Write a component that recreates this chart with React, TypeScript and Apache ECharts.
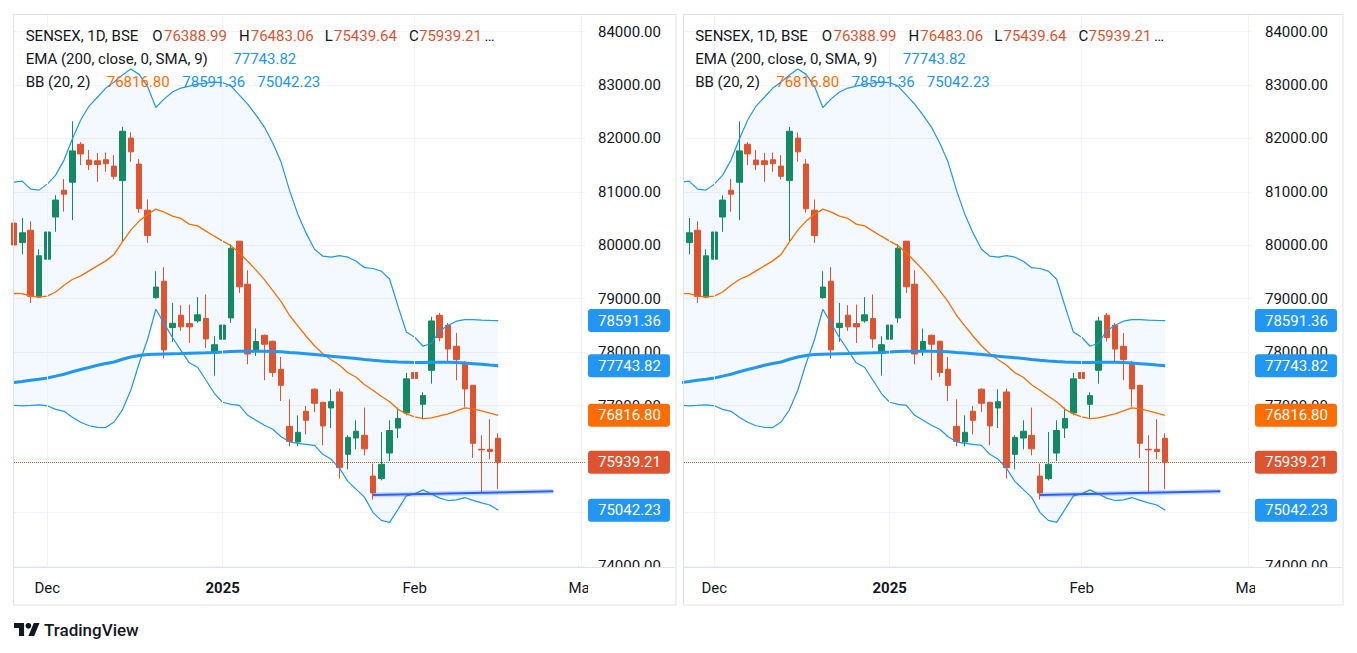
import React, { useEffect, useRef } from 'react';
import * as echarts from 'echarts';

// ---------- data ----------
const dates = [
  '2024-11-26', '2024-11-27', '2024-11-28', '2024-11-29',
  '2024-12-02', '2024-12-03', '2024-12-04', '2024-12-05', '2024-12-06',
  '2024-12-09', '2024-12-10', '2024-12-11', '2024-12-12', '2024-12-13',
  '2024-12-16', '2024-12-17', '2024-12-18', '2024-12-19', '2024-12-20',
  '2024-12-23', '2024-12-24', '2024-12-26', '2024-12-27', '2024-12-30', '2024-12-31',
  '2025-01-01', '2025-01-02', '2025-01-03', '2025-01-06', '2025-01-07', '2025-01-08',
  '2025-01-09', '2025-01-10', '2025-01-13', '2025-01-14', '2025-01-15', '2025-01-16',
  '2025-01-17', '2025-01-20', '2025-01-21', '2025-01-22', '2025-01-23', '2025-01-24',
  '2025-01-27', '2025-01-28', '2025-01-29', '2025-01-30', '2025-01-31', '2025-02-01',
  '2025-02-03', '2025-02-04', '2025-02-05', '2025-02-06', '2025-02-07', '2025-02-10',
  '2025-02-11', '2025-02-12', '2025-02-13', '2025-02-14',
];
const open = [80415, 80050, 80281, 79030, 79740, 80529, 81030, 81180, 81890, 81594, 81581, 81600, 81481, 81210, 82006, 81519, 80657, 79020, 79328, 78461, 78691, 78535, 78585, 78630, 77980, 78242, 78640, 80077, 79271, 78017, 78316, 78204, 77680, 76612, 76318, 76893, 77307, 77062, 76956, 77255, 76088, 76393, 76444, 75681, 75632, 76112, 76580, 76862, 77620, 77024, 77660, 78690, 78504, 78110, 77773, 77380, 76182, 76182, 76388.99];
const high = [80480, 80511, 80450, 79925, 80345, 80938, 81240, 82320, 81931, 81781, 81730, 81738, 81687, 82215, 82112, 81612, 80857, 79515, 79590, 78921, 78878, 78891, 79030, 79080, 78300, 78741, 80020, 80080, 79533, 78442, 78330, 78215, 77910, 77118, 76817, 76993, 77320, 77070, 77305, 77318, 76444, 76725, 76963, 75913, 76505, 76725, 76963, 77610, 77890, 77249, 78660, 78735, 78547, 78359, 77835, 77384, 76444, 76744, 76483.06];
const low = [79800, 79830, 78918, 79010, 79320, 80251, 80630, 80470, 81500, 81406, 81187, 81375, 81232, 80080, 81562, 80607, 80045, 79000, 77880, 78191, 78397, 78172, 78550, 78080, 77560, 77892, 78547, 79108, 77773, 77929, 77474, 77536, 77086, 76238, 76238, 76462, 76880, 76256, 76580, 75633, 75807, 76182, 76069, 75240, 75601, 75962, 76393, 76818, 76995, 76744, 77410, 78200, 77835, 77474, 76976, 76019, 75371, 75995, 75439.64];
const close = [80004, 80234, 79044, 79803, 80248, 80846, 80956, 81766, 81709, 81508, 81510, 81526, 81290, 82133, 81749, 80684, 80182, 79218, 78042, 78540, 78473, 78472, 78699, 78248, 78139, 78507, 79944, 79223, 77965, 78199, 78148, 77620, 77379, 76330, 76500, 76724, 77043, 76619, 77073, 75838, 76405, 76520, 76190, 75366, 75901, 76533, 76760, 77501, 77506, 77187, 78584, 78271, 78058, 77860, 77312, 76294, 76171, 76139, 75939.21];
const bbUpper = [81182, 81201, 81051, 81032, 81144, 81313, 81594, 81987, 82343, 82605, 82770, 82942, 83054, 83185, 83298, 83198, 82975, 82578, 82740, 82867, 82942, 82979, 83017, 83036, 83054, 83045, 82979, 82811, 82642, 82436, 82212, 81912, 81556, 81032, 80582, 80227, 79927, 79796, 79777, 79805, 79777, 79702, 79580, 79565, 79515, 79365, 78860, 78378, 78279, 78110, 78166, 78400, 78504, 78579, 78607, 78607, 78598, 78593, 78591.36];
const bbMid = [79097, 79094, 79047, 79034, 79047, 79125, 79253, 79359, 79427, 79521, 79614, 79708, 79829, 80065, 80283, 80452, 80575, 80676, 80620, 80545, 80502, 80395, 80363, 80264, 80170, 80077, 79993, 79857, 79702, 79534, 79358, 79153, 78944, 78690, 78493, 78298, 78120, 77970, 77857, 77754, 77614, 77530, 77389, 77286, 77174, 77071, 76930, 76846, 76790, 76756, 76771, 76809, 76846, 76902, 76959, 76940, 76902, 76859, 76816.80];
const bbLower = [77005, 76996, 77005, 77015, 76996, 76930, 76893, 76781, 76687, 76622, 76593, 76588, 76693, 76921, 77286, 77792, 78232, 78803, 78534, 78270, 78032, 77800, 77718, 77474, 77230, 77062, 77024, 77005, 76818, 76725, 76631, 76556, 76416, 76322, 76294, 76275, 76256, 76088, 75994, 75826, 75582, 75432, 75283, 75002, 74852, 74814, 75058, 75311, 75348, 75423, 75344, 75268, 75223, 75236, 75279, 75226, 75180, 75140, 75042.23];
const ema = [77431, 77451, 77474, 77493, 77517, 77551, 77586, 77633, 77674, 77713, 77754, 77786, 77816, 77867, 77910, 77936, 77955, 77961, 77966, 77970, 77974, 77979, 77983, 77987, 77992, 78002, 78013, 78017, 78017, 78017, 78017, 78013, 78006, 77994, 77983, 77970, 77957, 77942, 77923, 77910, 77895, 77880, 77863, 77848, 77835, 77824, 77815, 77811, 77807, 77807, 77809, 77811, 77811, 77805, 77796, 77785, 77773, 77758, 77743.82];

const xTickIdx = [4, 25, 48, 68];
const xTickLabels = ['Dec', '2025', 'Feb', 'Mar'];
const trendIdx = [43, 64.6];
const trendPrice = [75325, 75395];

const symbolTitle = 'SENSEX, 1D, BSE';
const emaTitle = 'EMA (200, close, 0, SMA, 9)';
const bbTitle = 'BB (20, 2)';

// ---------- styles / layout ----------
const RED = '#DF5430';
const GREEN = '#148A64';
const BLUE = '#2196F3';
const ORANGE = '#FF6D00';
const TREND = '#2962FF';
const TEXT = '#131722';
const GRIDC = '#F0F3FA';
const BORDER = '#E0E3EB';
const FONT = 'Roboto, "Noto Sans", sans-serif';

const STEP = 8.35;
const TOP = 14;
const BOTTOM = 567;
const Y_MIN = 73979.4;
const Y_MAX = 84327.7;
const HIDE_NEAR_BADGE = 100; // price-scale labels fully covered by a badge
const panels = [
  { left: 14, right: 585, x0: 13.9, boxX: 13.5, boxW: 662.5, textX: 25.7 },
  { left: 684, right: 1252, x0: 680.9, boxX: 683.5, boxW: 659.5, textX: 695.2 },
];

echarts.graphic.registerShape(
  'tvLogo',
  echarts.graphic.extendPath('M14 22H7V11H0V4h14v18zM28 22h-8l7.5-18h8L28 22z', {})
);

function txt(x: number, y: number, text: string, fill: string, extra: any = {}) {
  return {
    type: 'text',
    x,
    y,
    z: 60,
    silent: true,
    style: {
      text,
      fill,
      fontSize: 15,
      fontFamily: FONT,
      align: 'left',
      verticalAlign: 'middle',
      textAlign: 'left',
      textVerticalAlign: 'middle',
      ...extra,
    },
  };
}

function buildOption() {
  const last = close.length - 1;
  const fmt = (v: number) => v.toFixed(2);
  const badgeValues = [bbUpper[last], ema[last], bbMid[last], close[last], bbLower[last]];

  const badge = (v: number, color: string, visible: boolean) => ({
    yAxis: v,
    lineStyle: visible
      ? { color, type: 'dotted', width: 1 }
      : { color: 'rgba(0,0,0,0)', type: 'solid', width: 0 },
    label: {
      show: true,
      position: 'end',
      distance: 3,
      formatter: () => fmt(v),
      color: '#ffffff',
      fontSize: 15,
      fontFamily: FONT,
      backgroundColor: color,
      padding: [3, 9, 3, 10],
      borderRadius: 3,
      lineHeight: 17,
      opacity: 1,
    },
  });

  const grid: any[] = [];
  const xAxis: any[] = [];
  const yAxis: any[] = [];
  const series: any[] = [];
  const graphic: any[] = [];

  panels.forEach((p, k) => {
    grid.push({ left: p.left, top: TOP, width: p.right - p.left, height: BOTTOM - TOP });
    xAxis.push({
      type: 'value',
      gridIndex: k,
      min: (p.left - p.x0) / STEP,
      max: (p.right - p.x0) / STEP,
      axisLine: { show: false },
      axisTick: { show: false, customValues: xTickIdx },
      splitLine: { show: false },
      axisLabel: {
        customValues: xTickIdx,
        margin: 13,
        fontSize: 15,
        fontFamily: FONT,
        color: TEXT,
        formatter: (v: number) => {
          const j = xTickIdx.indexOf(Math.round(v));
          if (j < 0) return '';
          const t = xTickLabels[j];
          return t === '2025' ? '{b|' + t + '}' : t;
        },
        rich: { b: { fontWeight: 'bold', fontSize: 15, fontFamily: FONT, color: TEXT } },
      },
    });
    yAxis.push({
      type: 'value',
      gridIndex: k,
      position: 'right',
      min: Y_MIN,
      max: Y_MAX,
      splitNumber: 10,
      axisLine: { show: false },
      axisTick: { show: false },
      splitLine: { show: true, lineStyle: { color: GRIDC, width: 1 } },
      axisLabel: {
        margin: 13,
        fontSize: 15,
        fontFamily: FONT,
        color: TEXT,
        formatter: (v: number) => {
          if (Math.abs(v % 1000) > 0.01) return '';
          if (badgeValues.some((b) => Math.abs(b - v) < HIDE_NEAR_BADGE)) return '';
          return v.toFixed(2);
        },
      },
    });

    const ax = { xAxisIndex: k, yAxisIndex: k };

    // vertical grid lines at the month ticks
    series.push({
      ...ax,
      type: 'line',
      z: 0,
      silent: true,
      symbol: 'none',
      data: ema.map((v, i) => [i, v]),
      lineStyle: { opacity: 0 },
      markLine: {
        silent: true,
        symbol: ['none', 'none'],
        label: { show: false },
        emphasis: { disabled: true },
        lineStyle: { color: GRIDC, type: 'solid', width: 1 },
        data: xTickIdx.map((i) => ({ xAxis: i })),
      },
    });

    // Bollinger band fill
    series.push({
      ...ax,
      type: 'custom',
      z: 1,
      silent: true,
      clip: true,
      data: bbUpper.map((u, i) => [i, u, bbLower[i]]),
      encode: { x: 0, y: [1, 2] },
      renderItem: (params: any, api: any) => {
        if (params.dataIndex !== bbUpper.length - 1) return null;
        const pts: number[][] = [];
        for (let i = 0; i < bbUpper.length; i++) pts.push(api.coord([i, bbUpper[i]]));
        for (let i = bbLower.length - 1; i >= 0; i--) pts.push(api.coord([i, bbLower[i]]));
        return {
          type: 'polygon',
          shape: { points: pts },
          style: { fill: 'rgba(33,150,243,0.055)' },
        };
      },
    });

    // candles
    series.push({
      ...ax,
      type: 'candlestick',
      z: 3,
      silent: true,
      clip: true,
      barWidth: 6,
      data: close.map((c, i) => [i, open[i], c, low[i], high[i]]),
      itemStyle: {
        color: GREEN,
        color0: RED,
        borderColor: GREEN,
        borderColor0: RED,
        borderWidth: 1,
      },
      markLine: {
        silent: true,
        symbol: ['none', 'none'],
        emphasis: { disabled: true },
        data: [
          badge(bbUpper[last], BLUE, false),
          badge(ema[last], BLUE, false),
          badge(bbMid[last], ORANGE, false),
          badge(close[last], RED, true),
          badge(bbLower[last], BLUE, false),
        ],
      },
    });

    const lineS = (data: number[], color: string, width: number, z = 4) => ({
      ...ax,
      type: 'line',
      z,
      silent: true,
      symbol: 'none',
      clip: true,
      data: data.map((v, i) => [i, v]),
      lineStyle: { color, width },
    });
    series.push(lineS(bbUpper, BLUE, 1.2));
    series.push(lineS(bbLower, BLUE, 1.2));
    series.push(lineS(bbMid, ORANGE, 1.3));
    series.push(lineS(ema, BLUE, 3));

    // drawn trend line (with soft halo)
    const trendData = trendIdx.map((i, j) => [i, trendPrice[j]]);
    series.push({
      ...ax,
      type: 'line',
      z: 5,
      silent: true,
      symbol: 'none',
      data: trendData,
      lineStyle: { color: 'rgba(41,98,255,0.22)', width: 5 },
    });
    series.push({
      ...ax,
      type: 'line',
      z: 6,
      silent: true,
      symbol: 'none',
      data: trendData,
      lineStyle: { color: TREND, width: 2 },
    });

    // time-axis corner under the price scale (clips the overflowing time label)
    graphic.push({
      type: 'rect',
      z: 45,
      silent: true,
      shape: { x: p.right + 3, y: 568, width: p.boxX + p.boxW - p.right - 3, height: 36.5 },
      style: { fill: '#ffffff' },
    });
    // panel frame & time-axis separator
    graphic.push({
      type: 'rect',
      z: 50,
      silent: true,
      shape: { x: p.boxX, y: 14.5, width: p.boxW, height: 590.5 },
      style: { fill: 'none', stroke: BORDER, lineWidth: 1 },
    });
    graphic.push({
      type: 'line',
      z: 50,
      silent: true,
      shape: { x1: p.boxX, y1: 567.5, x2: p.boxX + p.boxW, y2: 567.5 },
      style: { stroke: BORDER, lineWidth: 1 },
    });

    // legend / header texts
    const dx = p.textX - 25.7;
    graphic.push(txt(25.7 + dx, 36, symbolTitle, TEXT));
    graphic.push(txt(152.3 + dx, 36, 'O', TEXT));
    graphic.push(txt(164 + dx, 36, fmt(open[last]), RED));
    graphic.push(txt(239 + dx, 36, 'H', TEXT));
    graphic.push(txt(250.7 + dx, 36, fmt(high[last]), RED));
    graphic.push(txt(324.7 + dx, 36, 'L', TEXT));
    graphic.push(txt(334 + dx, 36, fmt(low[last]), RED));
    graphic.push(txt(409 + dx, 36, 'C', TEXT));
    graphic.push(txt(419 + dx, 36, fmt(close[last]), RED));
    graphic.push(txt(484.5 + dx, 36, '…', TEXT));
    graphic.push(txt(25.7 + dx, 59.3, emaTitle, TEXT));
    graphic.push(txt(233.3 + dx, 59.3, fmt(ema[last]), BLUE));
    graphic.push(txt(25.7 + dx, 81.7, bbTitle, TEXT));
    graphic.push(txt(106.7 + dx, 81.7, fmt(bbMid[last]), ORANGE));
    graphic.push(txt(182.3 + dx, 81.7, fmt(bbUpper[last]), BLUE));
    graphic.push(txt(257.3 + dx, 81.7, fmt(bbLower[last]), BLUE));
  });

  // TradingView logo
  const ls = 0.72;
  const lx = 14;
  const ly = 620.1;
  graphic.push({
    type: 'tvLogo',
    x: lx,
    y: ly,
    scaleX: ls,
    scaleY: ls,
    z: 60,
    silent: true,
    style: { fill: TEXT },
  });
  graphic.push({
    type: 'circle',
    z: 60,
    silent: true,
    shape: { cx: lx + 20 * ls, cy: ly + 8 * ls, r: 4 * ls },
    style: { fill: TEXT },
  });
  graphic.push(txt(44, 629.5, 'TradingView', TEXT, { fontSize: 17, fontWeight: 500 }));

  return {
    animation: false,
    backgroundColor: '#ffffff',
    grid,
    xAxis,
    yAxis,
    series,
    graphic,
  };
}

export default function App() {
  const ref = useRef<HTMLDivElement>(null);
  useEffect(() => {
    if (!ref.current) return;
    const chart = echarts.init(ref.current, undefined, { renderer: 'svg' });
    chart.setOption(buildOption() as any);
    return () => {
      chart.dispose();
    };
  }, []);
  return (
    <div
      ref={ref}
      style={{ position: 'absolute', left: 0, top: 0, width: 1357, height: 653, background: '#fff' }}
    />
  );
}
